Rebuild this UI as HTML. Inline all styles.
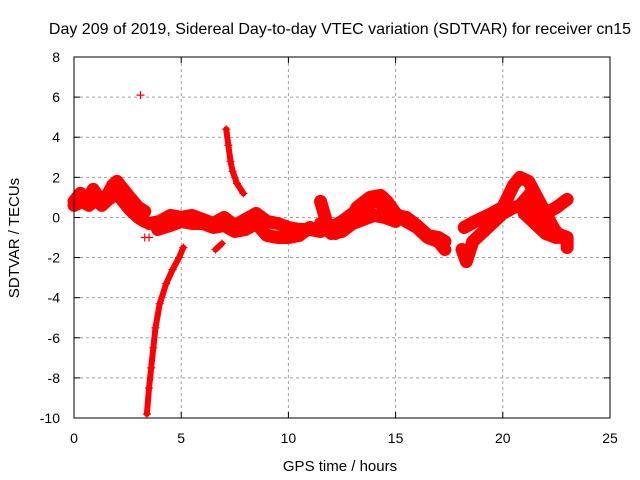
<!DOCTYPE html>
<html><head><meta charset="utf-8"><style>
body{margin:0;background:#fff;}
svg{display:block;font-family:"Liberation Sans",sans-serif;}
</style></head><body>
<svg id="chart" width="640" height="480" viewBox="0 0 640 480">
<rect width="640" height="480" fill="#fff"/>
<text x="340" y="34" font-size="16" text-anchor="middle">Day 209 of 2019, Sidereal Day-to-day VTEC variation (SDTVAR) for receiver cn15</text>
<text x="340" y="471" font-size="15" text-anchor="middle">GPS time / hours</text>
<text transform="translate(19,238) rotate(-90)" font-size="15" text-anchor="middle">SDTVAR / TECUs</text>
<g id="grid"></g><g id="marks"></g><g id="axes"></g>
</svg>
<script>
const xTicks=[0,5,10,15,20,25];
const yTicks=[8,6,4,2,0,-2,-4,-6,-8,-10];
const track1=[[0,0.8],[0.3,1.2],[0.6,0.9],[0.9,1.4],[1.2,0.9],[1.5,1.0],[1.8,1.6],[2.0,1.8],[2.3,1.4],[2.6,1.0],[3.0,0.5],[3.3,0.3]];
const track2=[[0,0.6],[0.4,0.8],[0.7,0.6],[1.0,0.9],[1.3,0.6],[1.6,0.9],[2.0,1.2],[2.3,0.8],[2.6,0.4],[3.0,0.0],[3.3,-0.2]];
const track3=[[3.5,-0.3],[4,-0.2],[4.5,0.1],[5,0.0],[5.5,0.1],[6,-0.1],[6.5,-0.3],[7,0.0],[7.5,-0.4],[8,-0.1],[8.5,0.2],[9,-0.2],[9.5,-0.3],[10,-0.5],[10.5,-0.6],[11,-0.6],[11.5,-0.7]];
const track4=[[3.9,-0.6],[4.5,-0.4],[5,-0.2],[5.5,-0.3],[6,-0.3],[6.5,-0.5],[7,-0.4],[7.5,-0.7],[8,-0.6],[8.5,-0.3],[9,-0.9],[9.5,-1.0],[10,-1.0],[10.5,-0.9],[11,-0.5]];
const dropTrack=[[3.4,-9.8],[3.5,-8.5],[3.6,-7.5],[3.7,-6.5],[3.8,-5.5],[4.0,-4.3],[4.3,-3.3],[4.6,-2.6],[4.9,-2.0],[5.1,-1.5]];
const spikeTrack=[[7.1,4.4],[7.2,3.6],[7.3,2.8],[7.4,2.3],[7.6,1.7],[7.9,1.2]];
const smallTrack=[[6.6,-1.6],[6.9,-1.3]];
const track5=[[11.5,0.8],[11.8,-0.3],[12.2,-0.8],[12.7,-0.5],[13.2,0.5],[13.8,1.0],[14.3,1.1],[14.6,0.8],[15,0.2],[15.5,-0.2],[16,-0.5],[16.5,-1.0],[17,-1.2],[17.3,-1.6]];
const track6=[[12,-0.5],[12.5,-0.2],[13,0.2],[13.5,0.5],[14,0.8],[14.3,0.7],[14.6,0.3],[15,0.1],[15.5,0.0],[16,-0.4],[16.5,-0.9],[17,-1.0],[17.3,-1.2]];
const track7=[[11.5,-0.3],[12,-0.8],[12.5,-0.7],[13,-0.3],[13.5,-0.1],[14,0.1],[14.5,0.0],[15,-0.2]];
const track8=[[18.1,-1.6],[18.3,-2.2],[18.6,-1.2],[19,-0.8],[19.5,-0.3],[20,0.2],[20.5,0.5],[21,0.6],[21.5,0.0],[22,-0.5],[22.5,-0.8],[23,-1.0],[23,-1.5]];
const track9=[[18.2,-0.5],[18.7,-0.2],[19.3,0.1],[20,0.5],[20.5,1.6],[20.8,2.0],[21.2,1.8],[21.6,1.0],[22,0.2],[22.4,-0.6],[22.7,-1.0]];
const track10=[[20.8,0.6],[21.3,1.2],[21.7,0.5],[22,0.2],[22.5,0.5],[23,0.9]];
const track11=[[21,0.2],[21.5,-0.3],[22,-0.8],[22.5,-1.0]];
const outliers=[[3.1,6.1],[3.3,-1.0],[3.5,-1.0]];
const tracks=[track1,track2,track3,track4,dropTrack,spikeTrack,smallTrack,track5,track6,track7,track8,track9,track10,track11];
const thin=[dropTrack,spikeTrack,smallTrack];

const X0=74,X1=610,Y0=418,Y1=57,xmin=0,xmax=25,ymin=-10,ymax=8;
const xs=v=>X0+(v-xmin)/(xmax-xmin)*(X1-X0);
const ys=v=>Y0-(v-ymin)/(ymax-ymin)*(Y0-Y1);
const NS='http://www.w3.org/2000/svg';
function mk(t,a,p){const e=document.createElementNS(NS,t);for(const k in a)e.setAttribute(k,a[k]);p.appendChild(e);return e;}
const grid=document.getElementById('grid'),marks=document.getElementById('marks'),axes=document.getElementById('axes');
xTicks.forEach(t=>{
  if(t>xmin&&t<xmax){const g=mk('line',{x1:xs(t),x2:xs(t),y1:Y1,y2:Y0,stroke:'#a0a0a0','stroke-dasharray':'3,3'},grid);
  
  }
  mk('line',{x1:xs(t),x2:xs(t),y1:Y0,y2:Y0-6,stroke:'#000'},axes);
  mk('line',{x1:xs(t),x2:xs(t),y1:Y1,y2:Y1+6,stroke:'#000'},axes);
  const l=mk('text',{x:xs(t),y:Y0+25,'font-size':14,'text-anchor':'middle'},axes);l.textContent=t;
  
  
});
yTicks.forEach(t=>{
  if(t>ymin&&t<ymax){const g=mk('line',{x1:X0,x2:X1,y1:ys(t),y2:ys(t),stroke:'#a0a0a0','stroke-dasharray':'3,3'},grid);
  
  }
  mk('line',{x1:X0,x2:X0+6,y1:ys(t),y2:ys(t),stroke:'#000'},axes);
  mk('line',{x1:X1,x2:X1-6,y1:ys(t),y2:ys(t),stroke:'#000'},axes);
  const l=mk('text',{x:X0-14,y:ys(t)+5,'font-size':14,'text-anchor':'end'},axes);l.textContent=t;
  
  
});
const frame=mk('rect',{x:X0,y:Y1,width:X1-X0,height:Y0-Y1,fill:'none',stroke:'#000'},axes);


function plus(x,y){mk('path',{d:`M${xs(x)-4},${ys(y)}h8M${xs(x)},${ys(y)-4}v8`,stroke:'#f00','stroke-width':1.2},marks);}
tracks.forEach(tr=>{
  const w=thin.includes(tr)?6:13;
  const p=mk('polyline',{points:tr.map(d=>xs(d[0])+','+ys(d[1])).join(' '),fill:'none',stroke:'#f00','stroke-width':w,'stroke-linejoin':'round','stroke-linecap':'round'},marks);
  
  
  tr.forEach(d=>plus(d[0],d[1]));
});
outliers.forEach(d=>plus(d[0],d[1]));
</script>
</body></html>
